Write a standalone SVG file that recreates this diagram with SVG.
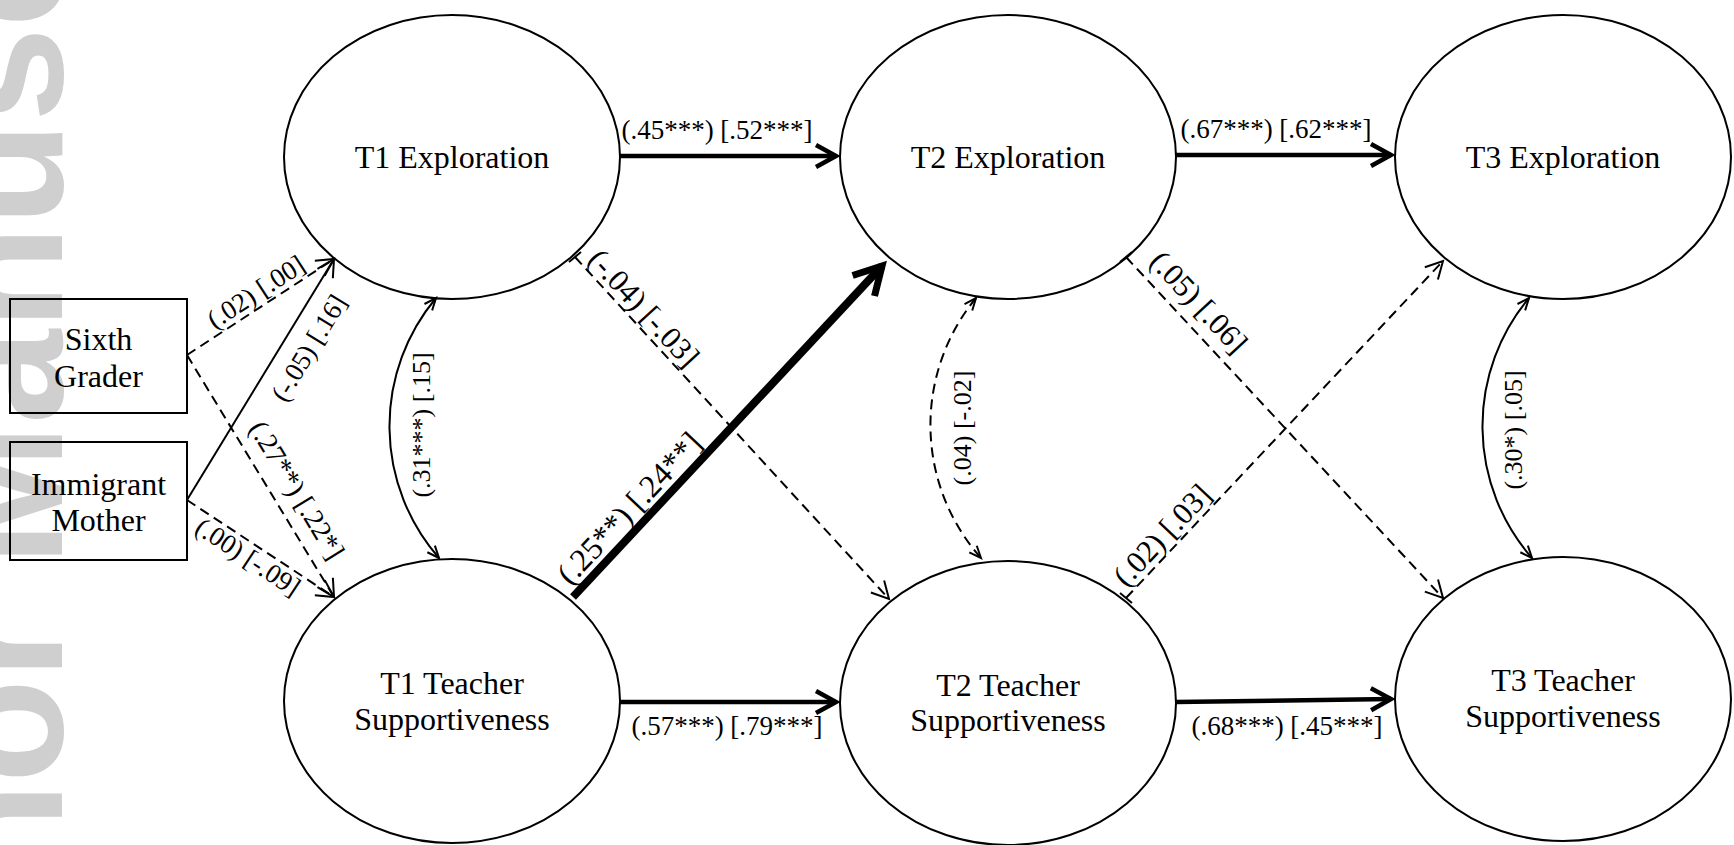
<svg xmlns="http://www.w3.org/2000/svg" width="1734" height="845" viewBox="0 0 1734 845">
<style>
.node ellipse{fill:none;stroke:#000;stroke-width:2}
.box rect{fill:none;stroke:#000;stroke-width:2}
.nt{font-family:"Liberation Serif","Times New Roman",serif;font-size:32px;text-anchor:middle;fill:#000}
.lb{font-family:"Liberation Serif","Times New Roman",serif;font-size:27px;text-anchor:middle;fill:#000}
.lc{dominant-baseline:central}
.ld{font-size:31px}
.lv{font-size:26px}
.wm{font-family:"Liberation Sans",Arial,sans-serif;font-size:170px;font-weight:bold;fill:#cfcfcf}
.solid{fill:none;stroke:#000;stroke-width:2}
.dash{fill:none;stroke:#000;stroke-width:2;stroke-dasharray:10 6}
.med{fill:none;stroke:#000;stroke-width:4.5}
.big{fill:none;stroke:#000;stroke-width:8}
.tick{stroke:#000;stroke-width:2}
</style>
<defs>
<marker id="ahThin" markerUnits="userSpaceOnUse" markerWidth="40" markerHeight="40" refX="0" refY="0" orient="auto" overflow="visible"><path d="M-17,-9 L0,0 L-17,9" fill="none" stroke="#000" stroke-width="2"/></marker>
<marker id="ahMed" markerUnits="userSpaceOnUse" markerWidth="40" markerHeight="40" refX="0" refY="0" orient="auto" overflow="visible"><path d="M-20,-11 L0,0 L-20,11" fill="none" stroke="#000" stroke-width="4.5"/></marker>
<marker id="ahBig" markerUnits="userSpaceOnUse" markerWidth="60" markerHeight="60" refX="0" refY="0" orient="auto" overflow="visible"><path d="M-27,-15 L0,0 L-27,15" fill="none" stroke="#000" stroke-width="7"/></marker>
<marker id="ahSmall" markerUnits="userSpaceOnUse" markerWidth="30" markerHeight="30" refX="0" refY="0" orient="auto-start-reverse" overflow="visible"><path d="M-12,-5 L0,0 L-12,5" fill="none" stroke="#000" stroke-width="2"/></marker>
</defs>
<rect x="0" y="0" width="1734" height="845" fill="#fff"/>
<g id="watermark"><text class="wm" transform="translate(62,1170) rotate(-90)">Author Manuscript</text></g>

<g id="connectors">
<line class="med" x1="620" y1="156" x2="836" y2="156" marker-end="url(#ahMed)"/>
<line class="med" x1="1176" y1="155" x2="1391" y2="155" marker-end="url(#ahMed)"/>
<line class="med" x1="620" y1="702" x2="836" y2="702" marker-end="url(#ahMed)"/>
<line class="med" x1="1176" y1="702" x2="1391" y2="699" marker-end="url(#ahMed)"/>
<line class="big" x1="573" y1="597" x2="882" y2="266" marker-end="url(#ahBig)"/>
<line class="dash" x1="575" y1="257" x2="889" y2="599" marker-end="url(#ahThin)"/>
<line class="tick" x1="569" y1="262" x2="581" y2="252"/>
<line class="dash" x1="1126" y1="257" x2="1443" y2="598" marker-end="url(#ahThin)"/>
<line class="tick" x1="1120" y1="262" x2="1132" y2="252"/>
<line class="dash" x1="1126" y1="598" x2="1443" y2="261" marker-end="url(#ahThin)"/>
<line class="tick" x1="1120" y1="593" x2="1132" y2="603"/>
<line class="dash" x1="187" y1="355" x2="334" y2="259" marker-end="url(#ahThin)"/>
<line class="dash" x1="187" y1="355" x2="334" y2="597" marker-end="url(#ahThin)"/>
<line class="solid" x1="187" y1="500" x2="334" y2="259" marker-end="url(#ahThin)"/>
<line class="dash" x1="187" y1="500" x2="334" y2="597" marker-end="url(#ahThin)"/>
<path class="solid" d="M436,298 A200,200 0 0 0 439,558" marker-start="url(#ahSmall)" marker-end="url(#ahSmall)"/>
<path class="dash" d="M976,298 A200,200 0 0 0 981,558" marker-start="url(#ahSmall)" marker-end="url(#ahSmall)"/>
<path class="solid" d="M1529,298 A200,200 0 0 0 1532,558" marker-start="url(#ahSmall)" marker-end="url(#ahSmall)"/>

<text class="lb" x="717" y="139">(.45***) [.52***]</text>
<text class="lb" x="1276" y="138">(.67***) [.62***]</text>
<text class="lb" x="727" y="735">(.57***) [.79***]</text>
<text class="lb" x="1287" y="735">(.68***) [.45***]</text>
<text class="lb lc ld" transform="translate(644,308) rotate(47.5)">(-.04) [-.03]</text>
<text class="lb lc" style="font-size:32px" transform="translate(629,508) rotate(-46.8)">(.25**) [.24**]</text>
<text class="lb lc ld" transform="translate(1199,302) rotate(47.1)">(.05) [.06]</text>
<text class="lb lc ld" transform="translate(1162,535) rotate(-46.7)">(.02) [.03]</text>
<text class="lb lc lv" transform="translate(421,425) rotate(-90)">(.31***) [.15]</text>
<text class="lb lc lv" transform="translate(962,428) rotate(-90)">(.04) [-.02]</text>
<text class="lb lc lv" transform="translate(1513,430) rotate(-90)">(.30*) [.05]</text>
<text class="lb lc" transform="translate(256,292) rotate(-33.1)">(.02) [.00]</text>
<text class="lb lc" transform="translate(309,348) rotate(-58.6)">(-.05) [.16]</text>
<text class="lb lc" style="font-size:28px" transform="translate(297,490) rotate(58.7)">(.27**) [.22*]</text>
<text class="lb lc" transform="translate(248,557) rotate(33.4)">(.00) [-.09]</text>
</g>

<g id="t1exp" class="node"><ellipse cx="452" cy="157" rx="168" ry="142"/><text class="nt" x="452" y="168">T1 Exploration</text></g>
<g id="t2exp" class="node"><ellipse cx="1008" cy="157" rx="168" ry="142"/><text class="nt" x="1008" y="168">T2 Exploration</text></g>
<g id="t3exp" class="node"><ellipse cx="1563" cy="157" rx="168" ry="142"/><text class="nt" x="1563" y="168">T3 Exploration</text></g>
<g id="t1teach" class="node"><ellipse cx="452" cy="701" rx="168" ry="142"/><text class="nt" x="452" y="694">T1 Teacher</text><text class="nt" x="452" y="730">Supportiveness</text></g>
<g id="t2teach" class="node"><ellipse cx="1008" cy="703" rx="168" ry="142"/><text class="nt" x="1008" y="696">T2 Teacher</text><text class="nt" x="1008" y="731">Supportiveness</text></g>
<g id="t3teach" class="node"><ellipse cx="1563" cy="699" rx="168" ry="142"/><text class="nt" x="1563" y="691">T3 Teacher</text><text class="nt" x="1563" y="727">Supportiveness</text></g>
<g id="sixth" class="box"><rect x="10" y="299" width="177" height="114"/><text class="nt" x="98.5" y="350">Sixth</text><text class="nt" x="98.5" y="387">Grader</text></g>
<g id="immigrant" class="box"><rect x="10" y="442" width="177" height="118"/><text class="nt" x="98.5" y="495">Immigrant</text><text class="nt" x="98.5" y="531">Mother</text></g>
</svg>
